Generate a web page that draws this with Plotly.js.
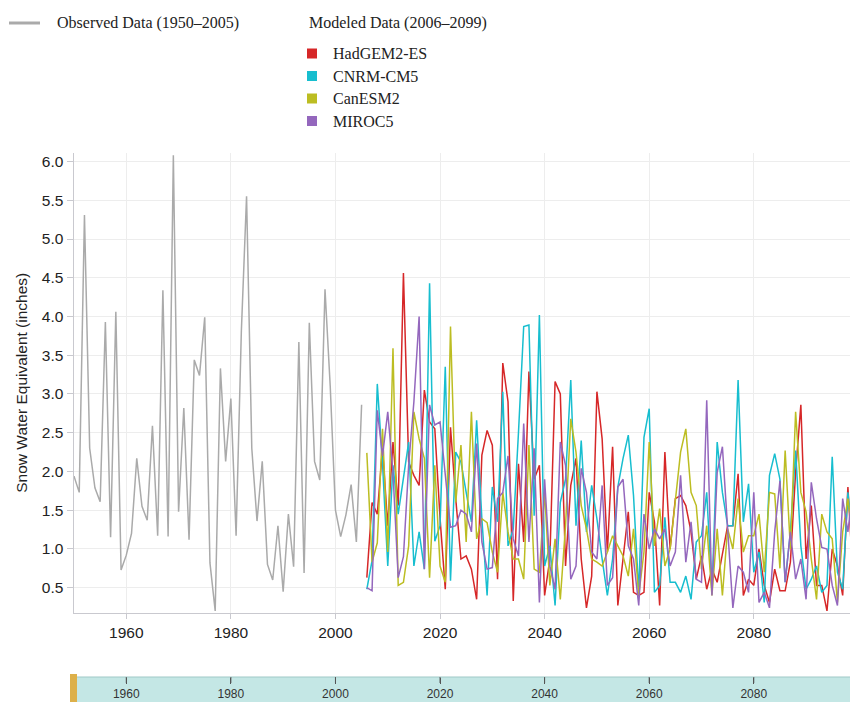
<!DOCTYPE html>
<html>
<head>
<meta charset="utf-8">
<script src="https://cdn.plot.ly/plotly-3.0.1.min.js"></script>
<style>html,body{margin:0;padding:0;background:#fff;overflow:hidden}</style>
</head>
<body>
<div id="chart" style="width:850px;height:702px"></div>
<script>
// ---------- DATA ----------
const obsStartYear = 1950;
const modelStartYear = 2006;

// Observed Data (1950–2005)
const observed = [
  1.94, 1.73, 5.31, 2.30, 1.79, 1.61, 3.93, 1.15, 4.06, 0.73,
  0.92, 1.20, 2.17, 1.55, 1.37, 2.59, 1.17, 4.34, 1.16, 6.08,
  1.48, 2.82, 1.12, 3.44, 3.24, 3.99, 0.82, 0.20, 3.33, 2.13,
  2.94, 1.17, 3.80, 5.55, 2.30, 1.36, 2.13, 0.80, 0.60, 1.30,
  0.45, 1.45, 0.77, 3.67, 0.69, 3.92, 2.13, 1.89, 4.35, 3.10,
  1.50, 1.16, 1.44, 1.83, 1.09, 2.86
];

// Modeled Data (2006–2099)
const hadgem = [
  0.63, 1.6, 1.45, 2.3, 1.3, 2.38, 1.56, 4.56, 2.12, 1.95,
  1.82, 3.05, 2.64, 2.55, 1.4, 0.48, 2.57, 1.65, 0.87, 0.91,
  0.74, 0.35, 2.21, 2.53, 2.34, 0.61, 3.4, 2.9, 0.33, 2.1,
  1.09, 3.29, 1.9, 2.08, 0.4, 0.87, 3.16, 3.0, 0.78, 1.82,
  2.17, 0.87, 0.24, 0.65, 3.03, 2.42, 0.96, 2.32, 0.27, 0.87,
  1.48, 0.44, 0.4, 0.44, 1.73, 1.35, 0.27, 2.25, 1.0, 1.65,
  1.69, 1.56, 1.22, 0.61, 0.91, 0.48, 0.74, 0.57, 0.96, 1.3,
  1.3, 1.97, 0.4, 0.61, 0.53, 1.0, 0.53, 0.31, 0.74, 0.46,
  0.46, 0.83, 1.99, 2.86, 0.87, 1.56, 0.53, 0.53, 0.2, 1.0,
  0.78, 0.4, 1.8, 0.6
];
const cnrm = [
  0.48, 0.85, 3.13, 2.1, 0.78, 2.08, 1.45, 1.9, 2.38, 0.78,
  1.22, 0.74, 4.43, 1.1, 1.3, 3.35, 0.59, 2.25, 2.12, 1.73,
  1.35, 2.66, 1.39, 0.4, 1.8, 1.35, 3.03, 1.04, 1.26, 2.5,
  3.87, 3.89, 1.43, 4.02, 0.78, 1.04, 0.27, 1.6, 1.9, 3.18,
  1.3, 2.4, 1.22, 1.82, 1.39, 0.87, 0.4, 0.87, 1.8, 2.17,
  2.47, 1.69, 0.44, 2.44, 2.81, 0.44, 0.53, 1.41, 0.57, 0.57,
  0.44, 0.65, 0.35, 1.09, 1.17, 1.73, 0.44, 2.38, 1.73, 1.3,
  1.3, 3.18, 1.35, 1.84, 0.7, 0.96, 0.31, 1.95, 2.23, 1.9,
  0.57, 1.22, 2.27, 1.04, 0.48, 0.61, 0.78, 0.44, 0.53, 2.19,
  0.7, 0.48, 1.73, 1.0
];
const canesm = [
  2.24, 0.83, 1.08, 2.55, 0.96, 3.59, 0.53, 0.57, 1.04, 2.77,
  2.42, 2.17, 0.63, 2.08, 0.78, 0.57, 3.87, 1.6, 2.34, 1.09,
  2.77, 1.13, 1.39, 1.34, 0.96, 0.7, 1.73, 1.22, 0.87, 0.87,
  0.61, 2.34, 0.74, 0.7, 1.73, 0.53, 1.13, 0.35, 1.3, 2.68,
  2.25, 1.56, 1.26, 0.87, 0.83, 0.78, 0.96, 1.17, 1.04, 0.91,
  0.65, 1.26, 0.4, 0.96, 2.38, 1.04, 1.52, 0.78, 1.0, 1.65,
  2.25, 2.55, 1.73, 1.56, 0.74, 1.3, 0.4, 1.26, 0.4, 1.26,
  1.0, 1.65, 0.96, 1.17, 1.17, 1.45, 0.7, 1.73, 1.71, 0.75,
  2.27, 1.0, 2.77, 1.73, 1.48, 0.87, 0.35, 1.45, 1.22, 1.13,
  0.31, 1.22, 1.65, 1.1
];
const miroc = [
  0.5, 0.46, 2.79, 2.2, 2.77, 1.99, 0.63, 0.9, 2.08, 2.9,
  4.0, 0.74, 2.86, 2.6, 2.64, 2.0, 1.28, 1.3, 1.5, 1.45,
  1.22, 2.36, 1.09, 0.74, 0.76, 1.65, 1.73, 2.2, 1.13, 0.91,
  2.62, 1.09, 2.3, 0.31, 1.9, 0.78, 0.48, 2.38, 2.08, 0.61,
  0.78, 2.04, 1.73, 0.96, 0.87, 1.82, 0.53, 0.63, 1.8, 1.9,
  1.04, 0.87, 0.27, 1.45, 1.0, 1.26, 1.13, 1.26, 0.78, 0.96,
  1.95, 0.83, 1.35, 0.61, 0.57, 2.92, 0.4, 1.99, 2.32, 1.26,
  0.24, 0.78, 0.7, 0.44, 1.73, 0.31, 0.44, 0.24, 1.22, 1.88,
  0.57, 1.22, 0.61, 0.87, 0.35, 1.86, 1.39, 1.02, 1.0, 0.53,
  0.27, 1.65, 1.22, 1.8
];

const observedName = 'Observed Data (1950–2005)';
const modeledTitle = 'Modeled Data (2006–2099)';
const modelNames = ['HadGEM2-ES', 'CNRM-CM5', 'CanESM2', 'MIROC5'];
const modelSeries = [hadgem, cnrm, canesm, miroc];
const modelColors = ['#d62728', '#17becf', '#bcbd22', '#9467bd'];
const observedColor = '#aaaaaa';

const xTickVals = [1960, 1980, 2000, 2020, 2040, 2060, 2080];
const xTickText = ['1960', '1980', '2000', '2020', '2040', '2060', '2080'];
const yTickVals = [0.5, 1.0, 1.5, 2.0, 2.5, 3.0, 3.5, 4.0, 4.5, 5.0, 5.5, 6.0];
const yTickText = ['0.5', '1.0', '1.5', '2.0', '2.5', '3.0', '3.5', '4.0', '4.5', '5.0', '5.5', '6.0'];
const yTitle = 'Snow Water Equivalent (inches)';

// ---------- GEOMETRY (page pixels -> paper) ----------
const W = 850, H = 702, ML = 74, MT = 153;
const PW = W - ML, PH = H - MT;
const px = x => (x - ML) / PW;
const py = y => (H - y) / PH;

const yearsFrom = (start, n) => Array.from({length: n}, (_, i) => start + i);

// ---------- TRACES ----------
const traces = [{
  type: 'scatter', mode: 'lines', name: observedName,
  x: yearsFrom(obsStartYear, observed.length), y: observed,
  line: {color: observedColor, width: 1.5}, xaxis: 'x', yaxis: 'y'
}];
modelSeries.forEach((s, i) => {
  traces.push({
    type: 'scatter', mode: 'lines', name: modelNames[i],
    x: yearsFrom(modelStartYear, s.length), y: s,
    line: {color: modelColors[i], width: 1.5}, xaxis: 'x', yaxis: 'y'
  });
});
// empty trace so the range-band axis (x2) is created
traces.push({type: 'scatter', mode: 'lines', x: [], y: [], xaxis: 'x2', yaxis: 'y',
  hoverinfo: 'skip', showlegend: false});

// ---------- LEGEND (drawn as shapes + annotations) ----------
const legendFont = {family: 'Liberation Serif, Times New Roman, serif', size: 16, color: '#222'};
const bandTop = py(677);
const shapes = [
  // range band below
  {type: 'rect', xref: 'paper', yref: 'paper', x0: px(77), x1: 1.0, y0: py(702), y1: bandTop,
   fillcolor: '#c4e7e5', line: {width: 0}, layer: 'below'},
  {type: 'line', xref: 'paper', yref: 'paper', x0: px(77), x1: 1.0, y0: bandTop, y1: bandTop,
   line: {color: '#9fc9c7', width: 1.2}},
  // handle
  {type: 'rect', xref: 'paper', yref: 'paper', x0: px(70), x1: px(77), y0: py(702), y1: py(674),
   fillcolor: '#ddb04a', line: {width: 0}},
  // observed legend line
  {type: 'line', xref: 'paper', yref: 'paper', x0: px(9), x1: px(40), y0: py(23), y1: py(23),
   line: {color: observedColor, width: 3}}
];
// band tick marks at the tick values of the range band axis
xTickVals.forEach(v => {
  shapes.push({type: 'line', xref: 'x', yref: 'paper', x0: v, x1: v, y0: bandTop, y1: py(683),
    line: {color: '#555', width: 1}});
});
const annotations = [
  {xref: 'paper', yref: 'paper', x: px(55), y: py(23), xanchor: 'left', yanchor: 'middle',
   text: observedName, showarrow: false, font: legendFont},
  {xref: 'paper', yref: 'paper', x: px(307), y: py(23), xanchor: 'left', yanchor: 'middle',
   text: modeledTitle, showarrow: false, font: legendFont}
];
const legendY = [53.5, 76, 98.5, 121];
modelNames.forEach((n, i) => {
  shapes.push({type: 'rect', xref: 'paper', yref: 'paper',
    x0: px(307), x1: px(317), y0: py(legendY[i] + 5), y1: py(legendY[i] - 5),
    fillcolor: modelColors[i], line: {width: 0}});
  annotations.push({xref: 'paper', yref: 'paper', x: px(331), y: py(legendY[i]),
    xanchor: 'left', yanchor: 'middle', text: n, showarrow: false, font: legendFont});
});

const sans = 'Liberation Sans, Arial, Helvetica, sans-serif';
const xRange = [1950, 2098.4];

const layout = {
  width: W, height: H,
  margin: {l: ML, r: 0, t: MT, b: 0, pad: 0},
  paper_bgcolor: '#ffffff', plot_bgcolor: '#ffffff',
  showlegend: false,
  font: {family: sans, color: '#333'},
  xaxis: {
    domain: [0, 1], anchor: 'y', range: xRange,
    tickvals: xTickVals, ticktext: xTickText,
    showgrid: true, gridcolor: '#ededed', gridwidth: 1,
    showline: true, linecolor: '#c9c9cf', linewidth: 1.5,
    ticks: 'outside', ticklen: 5, tickcolor: '#c9c9cf', tickwidth: 1,
    tickfont: {family: sans, size: 15.5, color: '#222'},
    zeroline: false, fixedrange: true
  },
  yaxis: {
    domain: [py(612.5), 1], anchor: 'x', range: [0.18, 6.11],
    tickvals: yTickVals, ticktext: yTickText,
    showgrid: true, gridcolor: '#ededed', gridwidth: 1,
    showline: true, linecolor: '#c9c9cf', linewidth: 1.5,
    ticks: 'outside', ticklen: 6, tickcolor: '#c9c9cf', tickwidth: 1,
    tickfont: {family: sans, size: 15.5, color: '#222'},
    title: {text: yTitle, font: {family: sans, size: 15.5, color: '#222'}, standoff: 10},
    zeroline: false, fixedrange: true
  },
  xaxis2: {
    overlaying: 'x', anchor: 'free', position: bandTop, side: 'bottom',
    range: xRange,
    tickvals: xTickVals, ticktext: xTickText,
    showgrid: false, showline: false, zeroline: false,
    ticks: 'outside', ticklen: 6, tickcolor: '#555', tickwidth: 1,
    tickfont: {family: sans, size: 12, color: '#333'},
    fixedrange: true
  },
  shapes: shapes,
  annotations: annotations
};

Plotly.newPlot('chart', traces, layout, {displayModeBar: false, staticPlot: true});
</script>
</body>
</html>
